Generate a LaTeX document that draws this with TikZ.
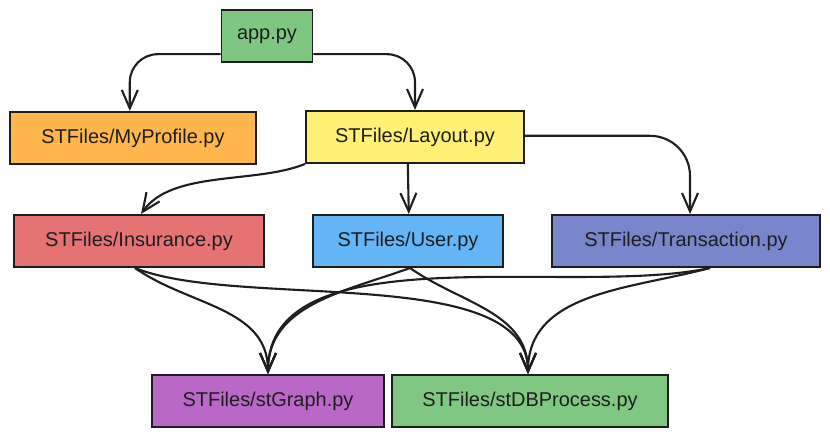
\documentclass[tikz,border=0pt]{standalone}
\usepackage{fontspec}
\setmainfont{Liberation Sans}
\usepackage{tikz}
\usetikzlibrary{arrows.meta,positioning}
\definecolor{appgreen}{HTML}{80C683}
\definecolor{proforange}{HTML}{FFB74D}
\definecolor{layyellow}{HTML}{FFF176}
\definecolor{insred}{HTML}{E57373}
\definecolor{userblue}{HTML}{64B5F6}
\definecolor{transblue}{HTML}{7986CB}
\definecolor{graphpurple}{HTML}{BA68C8}
\definecolor{dbgreen}{HTML}{81C784}
\definecolor{ink}{HTML}{1E1E1E}
\tikzset{
  box/.style={
    draw=ink,
    line width=1.4pt,
    rectangle,
    align=center,
    inner sep=4pt,
    minimum height=1.3cm,
    text=ink,
    font=\fontsize{14.2}{17}\selectfont,
  },
  arr/.style={-{Straight Barb[length=4.6mm, width=4mm]}, line width=1.5pt, draw=ink},
}

\begin{document}
\begin{tikzpicture}
  \useasboundingbox (0,0) rectangle (20.75,-10.95);

  \node[box, fill=appgreen, minimum width=2.275cm] (app) at (6.675,-0.9) {app.py};

  \node[box, fill=proforange, minimum width=6.15cm] (prof) at (3.325,-3.45) {STFiles/MyProfile.py};
  \node[box, fill=layyellow, minimum width=5.45cm] (lay) at (10.375,-3.425) {STFiles/Layout.py};

  \node[box, fill=insred, minimum width=6.25cm] (ins) at (3.475,-6.025) {STFiles/Insurance.py};
  \node[box, fill=userblue, minimum width=4.75cm] (user) at (10.2,-6.025) {STFiles/User.py};
  \node[box, fill=transblue, minimum width=6.7cm] (trans) at (17.15,-6.025) {STFiles/Transaction.py};

  \node[box, fill=graphpurple, minimum width=5.8cm] (graph) at (6.7,-10.025) {STFiles/stGraph.py};
  \node[box, fill=dbgreen, minimum width=6.9cm] (db) at (13.25,-10.025) {STFiles/stDBProcess.py};

  % app.py -> second row
  \draw[arr, rounded corners=0.7cm] ([yshift=0.22cm]app.south west) -| ([xshift=-0.08cm]prof.north);
  \draw[arr, rounded corners=0.7cm] ([yshift=0.22cm]app.south east) -| (lay.north);

  % Layout -> third row
  \draw[arr] (lay.south west) to[out=202, in=55, looseness=0.8] ([xshift=0.05cm]ins.north);
  \draw[arr] ([xshift=-0.18cm]lay.south) -- ([xshift=0.02cm]user.north);
  \draw[arr, rounded corners=1cm] ([yshift=0.03cm]lay.east) -| ([xshift=0.1cm]trans.north);

  % third row -> stGraph / stDBProcess
  \draw[arr] ([xshift=-0.1cm]ins.south) to[out=-35, in=90] (graph.north);
  \draw[arr] ([xshift=-0.1cm]ins.south) to[out=-22, in=90, looseness=0.7] ([xshift=-0.05cm]db.north);
  \draw[arr] ([xshift=0.05cm]user.south) to[out=200, in=90] (graph.north);
  \draw[arr] ([xshift=0.05cm]user.south) to[out=-35, in=90] ([xshift=-0.05cm]db.north);
  \draw[arr] ([xshift=0.6cm]trans.south) to[out=192, in=90, looseness=0.8] (graph.north);
  \draw[arr] ([xshift=0.6cm]trans.south) to[out=195, in=90] ([xshift=-0.05cm]db.north);
\end{tikzpicture}
\end{document}
